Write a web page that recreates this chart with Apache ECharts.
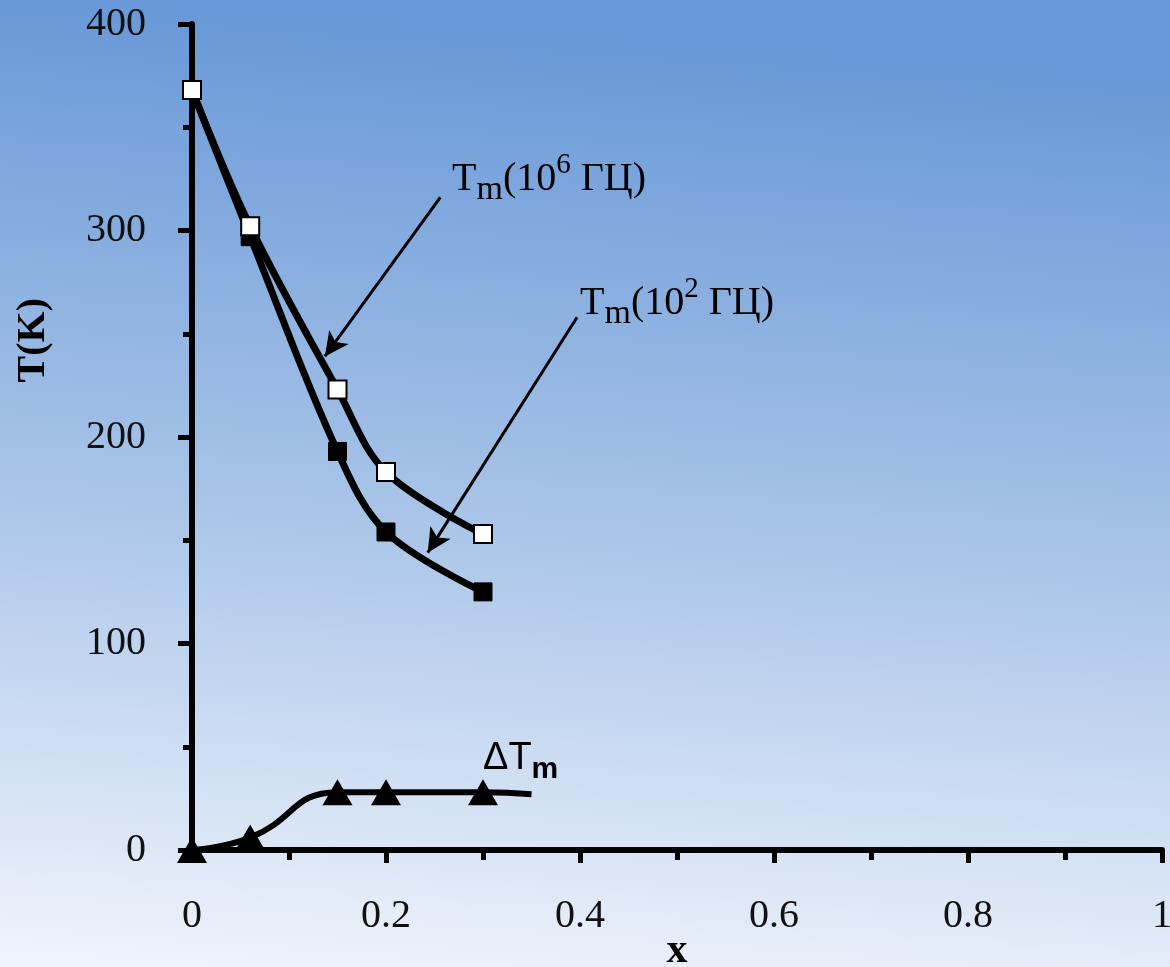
<!DOCTYPE html>
<html>
<head>
<meta charset="UTF-8" />
<title>Tm vs x</title>
<script src="https://cdn.jsdelivr.net/npm/echarts@6/dist/echarts.min.js"></script>
<style>
  html, body { margin: 0; padding: 0; }
  #main { width: 1170px; height: 967px; }
</style>
</head>
<body>
<div id="main"></div>
<script>
// Tm at 10^6 Hz (open squares)
var xHigh = [0, 0.06, 0.15, 0.2, 0.3];
var tHigh = [368, 302, 223, 183, 153];
// Tm at 10^2 Hz (filled squares)
var xLow = [0, 0.06, 0.15, 0.2, 0.3];
var tLow = [368, 297, 193, 154, 125];
// delta Tm (triangles); last point is the end of the curve, no marker
var xDelta = [0, 0.06, 0.15, 0.2, 0.3, 0.35];
var tDelta = [0, 6, 28, 28, 28, 27];
// arrows: [start, end] in data units
var arrowHigh = [[0.256, 316], [0.137, 239]];
var arrowLow = [[0.397, 258], [0.243, 144]];

var serif = '"Liberation Serif", "Times New Roman", serif';
var sans = '"Liberation Sans", Arial, sans-serif';

function pairs(xs, ys) {
    var out = [];
    for (var i = 0; i < xs.length; i++) out.push([xs[i], ys[i]]);
    return out;
}
var deltaData = pairs(xDelta, tDelta).map(function (p, i) {
    return i === xDelta.length - 1 ? { value: p, symbol: 'none' } : p;
});

// label styles: T with subscript m and superscript power
var labelRich = {
    t: { fontFamily: serif, fontSize: 40, lineHeight: 56, verticalAlign: 'middle', color: '#000' },
    s: { fontFamily: serif, fontSize: 34, lineHeight: 34, verticalAlign: 'bottom', color: '#000' },
    p: { fontFamily: serif, fontSize: 29, lineHeight: 40, verticalAlign: 'top', color: '#000' }
};

var myChart = echarts.init(document.getElementById('main'));

var option = {
    animation: false,
    backgroundColor: {
        type: 'linear', x: 0.06, y: 0, x2: 0, y2: 1,
        colorStops: [
            { offset: 0, color: '#6898d7' },
            { offset: 0.5, color: '#a8c4e8' },
            { offset: 1, color: '#f0f5fc' }
        ]
    },
    grid: { left: 192, right: 8, top: 24, bottom: 117, outerBoundsMode: 'none' },
    xAxis: {
        type: 'value', min: 0, max: 1, interval: 0.2,
        axisLine: { show: true, onZero: false, lineStyle: { color: '#000', width: 6 } },
        axisTick: { show: true, inside: false, length: 13, lineStyle: { color: '#000', width: 5 } },
        minorTick: { show: true, splitNumber: 2, length: 10, lineStyle: { color: '#000', width: 5 } },
        axisLabel: { margin: 46, fontFamily: serif, fontSize: 40, color: '#111' },
        splitLine: { show: false }
    },
    yAxis: {
        type: 'value', min: 0, max: 400, interval: 100,
        axisLine: { show: true, onZero: false, lineStyle: { color: '#000', width: 6 } },
        axisTick: { show: true, inside: false, length: 14, lineStyle: { color: '#000', width: 5 } },
        minorTick: { show: true, splitNumber: 2, length: 9, lineStyle: { color: '#000', width: 5 } },
        axisLabel: { margin: 46, fontFamily: serif, fontSize: 40, color: '#111' },
        splitLine: { show: false }
    },
    series: [
        {
            name: 'Tm(10^2)', type: 'line', smooth: 0.35, clip: false,
            data: pairs(xLow, tLow),
            symbol: 'rect', symbolSize: 18,
            itemStyle: { color: '#000', borderColor: '#000', borderWidth: 1 },
            lineStyle: { color: '#000', width: 7 },
            z: 2
        },
        {
            name: 'Tm(10^6)', type: 'line', smooth: 0.35, clip: false,
            data: pairs(xHigh, tHigh),
            symbol: 'rect', symbolSize: 18,
            itemStyle: { color: '#fff', borderColor: '#000', borderWidth: 2 },
            lineStyle: { color: '#000', width: 7 },
            z: 3,
            markLine: {
                silent: true, animation: false,
                symbol: ['none', 'arrow'], symbolSize: [18, 24],
                label: { show: false },
                lineStyle: { color: '#000', width: 3, type: 'solid' },
                data: [
                    [{ coord: arrowHigh[0] }, { coord: arrowHigh[1] }],
                    [{ coord: arrowLow[0] }, { coord: arrowLow[1] }]
                ]
            }
        },
        {
            name: 'dTm', type: 'line', smooth: 0.5, clip: false,
            data: deltaData,
            symbol: 'triangle', symbolSize: [30, 26],
            itemStyle: { color: '#000' },
            lineStyle: { color: '#000', width: 6 },
            z: 2
        }
    ],
    graphic: [
        {
            type: 'text', left: 14, top: 298, rotation: Math.PI / 2,
            style: { text: 'T(K)', font: 'bold 40px ' + serif, fill: '#000' }
        },
        {
            type: 'text', x: 677, y: 951,
            style: { text: 'x', font: 'bold 42px ' + serif, fill: '#000', align: 'center', verticalAlign: 'middle' }
        },
        {
            type: 'text', x: 452, y: 151,
            style: {
                text: '{t|T}{s|m}{t|(10}{p|6}{t| ГЦ)}',
                verticalAlign: 'top', align: 'left',
                rich: labelRich
            }
        },
        {
            type: 'text', x: 580, y: 275,
            style: {
                text: '{t|T}{s|m}{t|(10}{p|2}{t| ГЦ)}',
                verticalAlign: 'top', align: 'left',
                rich: labelRich
            }
        },
        {
            type: 'text', x: 483, y: 733,
            style: {
                text: '{t|ΔT}{s|m}',
                verticalAlign: 'top', align: 'left',
                rich: {
                    t: { fontFamily: sans, fontSize: 38, lineHeight: 52, verticalAlign: 'middle', color: '#000' },
                    s: { fontFamily: sans, fontSize: 30, fontWeight: 'bold', lineHeight: 30, verticalAlign: 'bottom', color: '#000' }
                }
            }
        }
    ]
};
myChart.setOption(option);
</script>
</body>
</html>
